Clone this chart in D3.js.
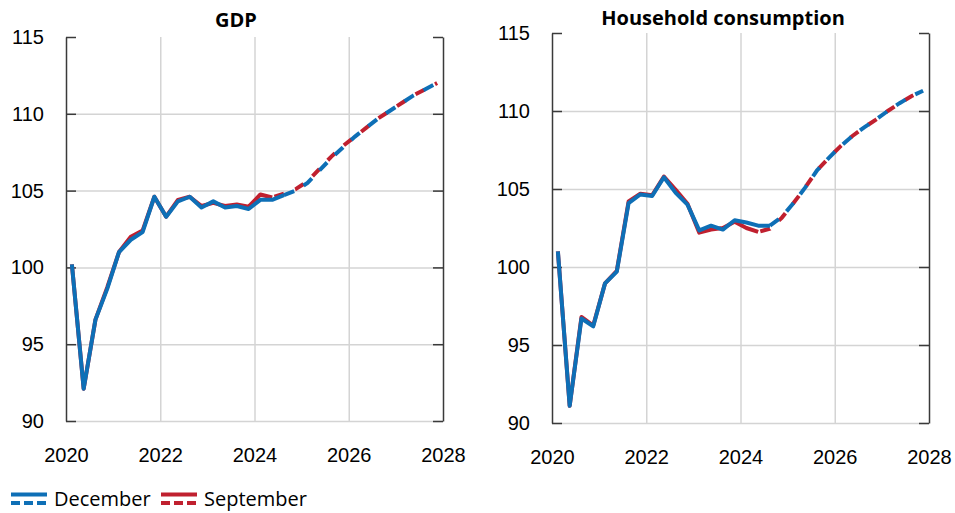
<!DOCTYPE html>
<html>
<head>
<meta charset="utf-8">
<script src="https://cdn.jsdelivr.net/npm/d3@7"></script>
<style>
  body { margin: 0; background: #fff; }
  svg { font-family: "Open Sans", sans-serif; }
</style>
</head>
<body>
<div id="chart"></div>
<script>
const quarters = [
  "2020Q1", "2020Q2", "2020Q3", "2020Q4", "2021Q1", "2021Q2", "2021Q3", "2021Q4",
  "2022Q1", "2022Q2", "2022Q3", "2022Q4", "2023Q1", "2023Q2", "2023Q3", "2023Q4",
  "2024Q1", "2024Q2", "2024Q3", "2024Q4", "2025Q1", "2025Q2", "2025Q3", "2025Q4",
  "2026Q1", "2026Q2", "2026Q3", "2026Q4", "2027Q1", "2027Q2", "2027Q3", "2027Q4"
];

const gdpDecember = [
  100.2, 92.1, 96.6, 98.6, 101.0, 101.8, 102.3, 104.6,
  103.3, 104.3, 104.6, 103.9, 104.3, 103.9, 104.0, 103.8,
  104.4, 104.4, 104.7, 105.0, 105.5, 106.3, 107.1, 107.8,
  108.5, 109.1, 109.7, 110.2, 110.7, 111.2, 111.6, 112.0
];
const gdpSeptember = [
  100.2, 92.1, 96.6, 98.7, 101.0, 102.0, 102.4, 104.6,
  103.3, 104.4, 104.6, 104.0, 104.2, 104.0, 104.1, 103.95,
  104.75, 104.55, 104.8, 105.1, 105.6, 106.4, 107.2, 107.9,
  108.5, 109.1, 109.7, 110.2, 110.7, 111.2, 111.6, 112.0
];

const consDecember = [
  101.0, 91.1, 96.7, 96.2, 98.95, 99.7, 104.1, 104.65,
  104.55, 105.75, 104.75, 104.0, 102.35, 102.65, 102.4, 103.0,
  102.85, 102.65, 102.65, 103.2, 104.1, 105.1, 106.2, 107.0,
  107.75, 108.4, 108.95, 109.45, 110.0, 110.5, 110.95, 111.3
];
const consSeptember = [
  101.0, 91.1, 96.8, 96.25, 98.95, 99.75, 104.2, 104.7,
  104.6, 105.8, 104.95, 104.05, 102.2, 102.4, 102.5, 102.9,
  102.5, 102.25, 102.45, 103.15, 104.1, 105.1, 106.2, 107.0,
  107.75, 108.4, 108.95, 109.45, 110.0, 110.5, 110.95, 111.3
];

// last quarter of outturn data in each vintage
const lastActual = { December: "2024Q3", September: "2024Q2" };

const yTicks = [90, 95, 100, 105, 110, 115];
const xTicks = [2020, 2022, 2024, 2026, 2028];

const blue = "#0e6fb6";
const red = "#c0202f";
const gridColor = "#d4d4d4";
const axisColor = "#3a3a3a";

function quarterTime(q) {
  const year = +q.slice(0, 4);
  const n = +q.slice(5);
  return year + (n - 0.5) / 4;
}

const svg = d3.select("#chart").append("svg")
  .attr("width", 955)
  .attr("height", 513);

const panels = [
  { title: "GDP", december: gdpDecember, september: gdpSeptember,
    left: 66, right: 443, top: 37, bottom: 421, titleX: 236, titleY: 27 },
  { title: "Household consumption", december: consDecember, september: consSeptember,
    left: 552, right: 929, top: 33, bottom: 423, titleX: 723, titleY: 25 }
];

panels.forEach(p => {
  const w = p.right - p.left;
  const h = p.bottom - p.top;
  const x = d3.scaleLinear().domain([2020, 2028]).range([0, w]);
  const y = d3.scaleLinear().domain([90, 115]).range([h, 0]);

  const g = svg.append("g").attr("transform", `translate(${p.left},${p.top})`);

  // gridlines
  g.append("g")
    .call(d3.axisLeft(y).tickValues([90, 95, 100, 105, 110]).tickSize(-w).tickFormat(""))
    .call(a => a.select(".domain").remove())
    .selectAll("line").attr("stroke", gridColor).attr("stroke-width", 1.5);

  g.append("g")
    .attr("transform", `translate(0,${h})`)
    .call(d3.axisBottom(x).tickValues([2022, 2024, 2026]).tickSize(h).tickFormat(""))
    .call(a => a.select(".domain").remove())
    .selectAll("line").attr("stroke", gridColor).attr("stroke-width", 1.5)
    .attr("y2", -h);

  // left axis with inward ticks
  const leftAxis = g.append("g")
    .call(d3.axisLeft(y).tickValues(yTicks).tickSizeInner(-10).tickSizeOuter(0).tickPadding(22));
  leftAxis.select(".domain").attr("stroke", axisColor).attr("stroke-width", 1.5);
  leftAxis.selectAll("line").attr("stroke", axisColor).attr("stroke-width", 1.5);
  leftAxis.selectAll("text")
    .attr("fill", "#000")
    .style("font-size", "20px");

  // right axis, ticks only
  const rightAxis = g.append("g")
    .attr("transform", `translate(${w},0)`)
    .call(d3.axisRight(y).tickValues(yTicks).tickSizeInner(-10).tickSizeOuter(0).tickFormat(""));
  rightAxis.select(".domain").attr("stroke", axisColor).attr("stroke-width", 1.5);
  rightAxis.selectAll("line").attr("stroke", axisColor).attr("stroke-width", 1.5);

  // year labels
  const bottomAxis = g.append("g")
    .attr("transform", `translate(0,${h})`)
    .call(d3.axisBottom(x).tickValues(xTicks).tickSize(0).tickFormat(d3.format("d")));
  bottomAxis.select(".domain").remove();
  bottomAxis.selectAll("text")
    .attr("y", 41)
    .attr("dy", null)
    .attr("fill", "#000")
    .style("font-size", "20px");

  // title
  svg.append("text")
    .attr("x", p.titleX)
    .attr("y", p.titleY)
    .attr("text-anchor", "middle")
    .style("font-size", "20px")
    .style("font-weight", "bold")
    .text(p.title);

  const line = d3.line()
    .x(d => x(quarterTime(d.q)))
    .y(d => y(d.v));

  const series = [
    { name: "September", color: red, values: p.september },
    { name: "December", color: blue, values: p.december }
  ];

  // dash pattern is shared; September dashes sit in the gaps of December
  const blueStart = quarters.indexOf(lastActual.December);

  series.forEach(s => {
    const pts = quarters.map((q, i) => ({ q, v: s.values[i] }));
    const cut = quarters.indexOf(lastActual[s.name]);
    const actual = pts.slice(0, cut + 1);
    const forecast = pts.slice(cut);

    g.append("path")
      .datum(actual)
      .attr("fill", "none")
      .attr("stroke", s.color)
      .attr("stroke-width", 4)
      .attr("stroke-linejoin", "round")
      .attr("d", line);

    let offset = 0;
    if (s.name === "September") {
      // length travelled before reaching the point where December's dashes start
      let lead = 0;
      for (let i = cut; i < blueStart; i++) {
        const dx = x(quarterTime(quarters[i + 1])) - x(quarterTime(quarters[i]));
        const dy = y(s.values[i + 1]) - y(s.values[i]);
        lead += Math.hypot(dx, dy);
      }
      offset = -12 - lead;
    }

    g.append("path")
      .datum(forecast)
      .attr("fill", "none")
      .attr("stroke", s.color)
      .attr("stroke-width", 4)
      .attr("stroke-dasharray", s.name === "December" ? "11,11" : "10,12")
      .attr("stroke-dashoffset", offset)
      .attr("d", line);
  });
});

// legend
const legendItems = [
  { name: "December", color: blue, x: 11 },
  { name: "September", color: red, x: 161 }
];

const legend = svg.append("g").attr("class", "legend");
legendItems.forEach(item => {
  const lg = legend.append("g").attr("transform", `translate(${item.x},0)`);
  lg.append("line")
    .attr("x1", 0).attr("x2", 36)
    .attr("y1", 494.5).attr("y2", 494.5)
    .attr("stroke", item.color).attr("stroke-width", 4);
  lg.append("line")
    .attr("x1", 0).attr("x2", 36)
    .attr("y1", 503).attr("y2", 503)
    .attr("stroke", item.color).attr("stroke-width", 4)
    .attr("stroke-dasharray", "9,4");
  lg.append("text")
    .attr("x", 43)
    .attr("y", 506)
    .style("font-size", "20px")
    .text(item.name);
});
</script>
</body>
</html>
